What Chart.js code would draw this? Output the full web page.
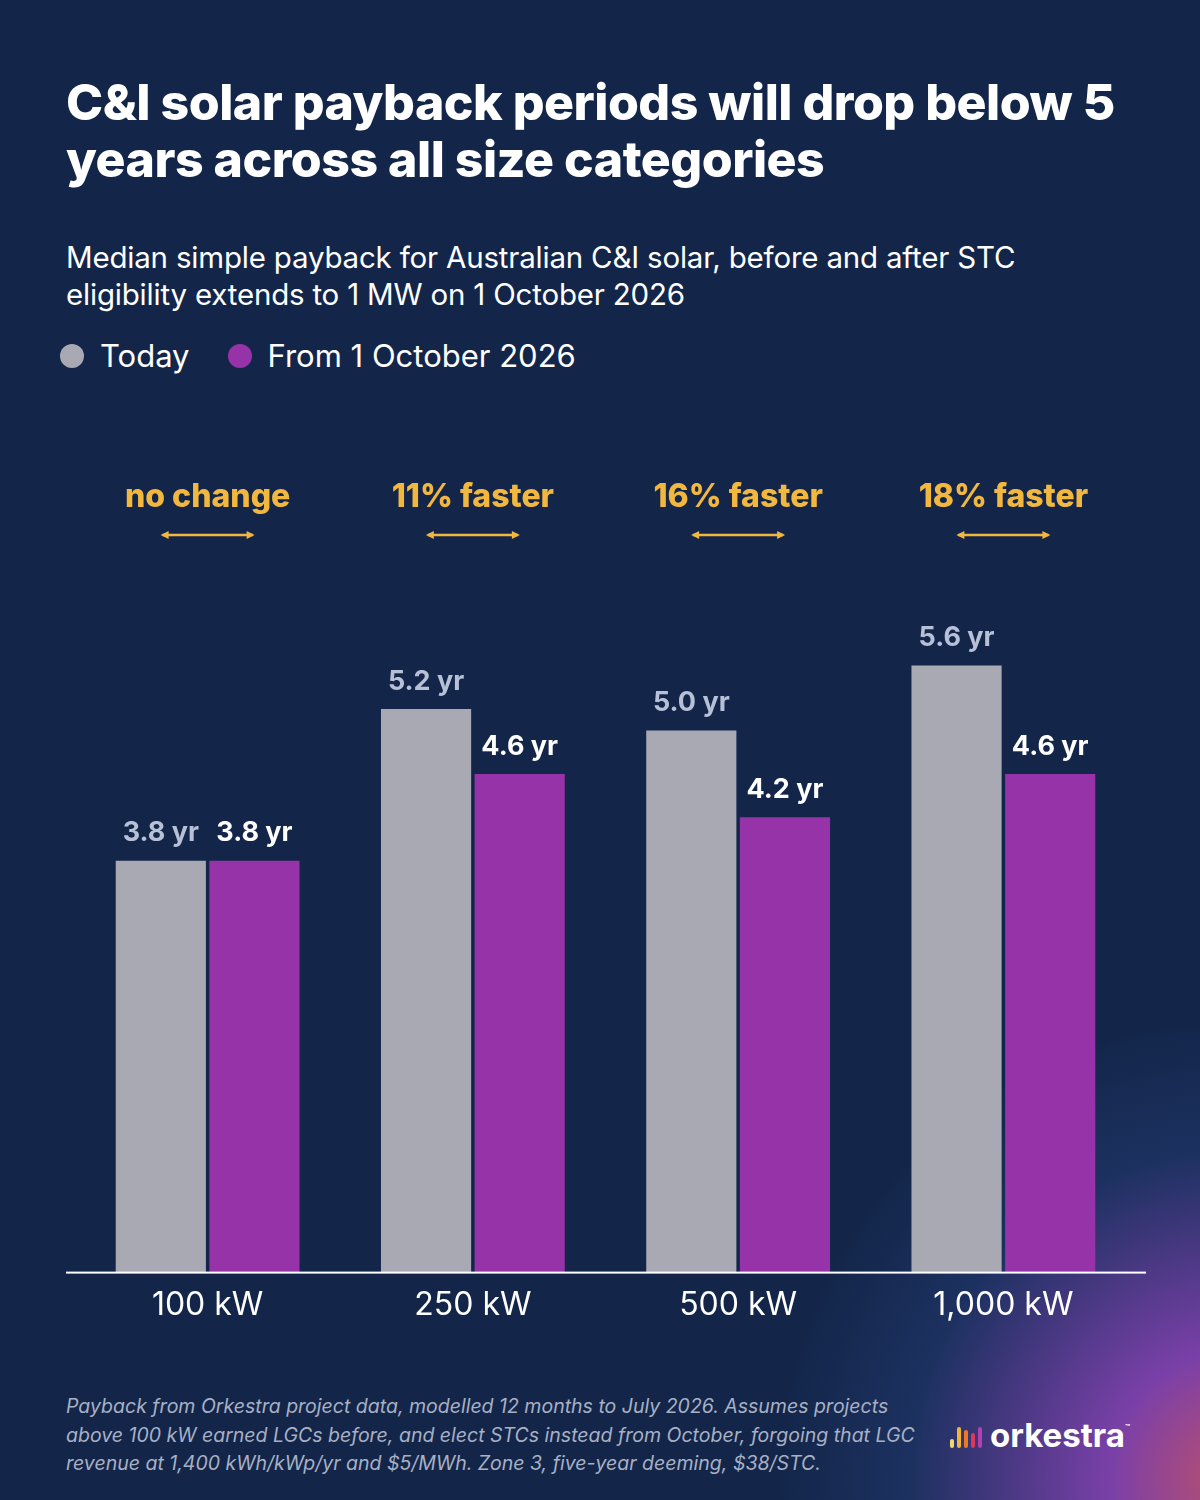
<!DOCTYPE html>
<html>
<head>
<meta charset="utf-8">
<script src="https://cdn.jsdelivr.net/npm/chart.js@4.4.1/dist/chart.umd.min.js"></script>
<style>
  body { margin: 0; width: 1200px; height: 1500px; overflow: hidden;
    background: radial-gradient(circle at 1240px 1480px, #c0506a 0px, #7a40a8 130px, #1c3160 330px, #13264a 460px), #13264a;
    font-family: "Inter", sans-serif; color: #fff; position: relative; }
  h1 { position: absolute; left: 66px; top: 74px; margin: 0; font-size: 50px; line-height: 57px; font-weight: 800; width: 1100px; letter-spacing: -0.5px; }
  .sub { position: absolute; left: 66px; top: 239px; font-size: 29.5px; line-height: 37px; font-weight: 400; width: 1100px; letter-spacing: -0.2px; }
  .legend { position: absolute; left: 60px; top: 337px; font-size: 31px; display: flex; align-items: center; }
  .dot { width: 24px; height: 24px; border-radius: 50%; display: inline-block; margin-right: 16px; }
  .foot { position: absolute; left: 66px; top: 1392px; font-size: 19.5px; line-height: 28.5px; font-style: italic; color: #a8b0c4; width: 850px; }
  .logo { position: absolute; left: 950px; top: 1422px; display: flex; align-items: flex-end; font-size: 33px; font-weight: 700; }
  .logo span.b { display: inline-block; width: 4px; border-radius: 2px; margin-right: 3px; }
  #wrap { position: absolute; left: 0; top: 400px; width: 1200px; height: 960px; }
</style>
</head>
<body>
<h1>C&amp;I solar payback periods will drop below 5 years across all size categories</h1>
<div class="sub">Median simple payback for Australian C&amp;I solar, before and after STC<br>eligibility extends to 1 MW on 1 October 2026</div>
<div class="legend">
  <span class="dot" style="background:#a9a9b4"></span><span style="margin-right:38px">Today</span>
  <span class="dot" style="background:#9733a8"></span><span>From 1 October 2026</span>
</div>
<div id="wrap"><canvas id="payback" width="1200" height="960"></canvas></div>
<div class="foot">Payback from Orkestra project data, modelled 12 months to July 2026. Assumes projects above 100 kW earned LGCs before, and elect STCs instead from October, forgoing that LGC revenue at 1,400 kWh/kWp/yr and $5/MWh. Zone 3, five-year deeming, $38/STC.</div>
<div class="logo">
  <span class="b" style="height:9px;background:#f6d56a"></span>
  <span class="b" style="height:21px;background:#f2b531"></span>
  <span class="b" style="height:18px;background:#ec7a25"></span>
  <span class="b" style="height:15px;background:#d93a5c"></span>
  <span class="b" style="height:21px;background:#b33fb5;margin-right:8px"></span>
  <span style="line-height:26px">orkestra</span><span style="font-size:8px;align-self:flex-start">™</span>
</div>
<script>
const sizes = ["100 kW", "250 kW", "500 kW", "1,000 kW"];
const today = [3.8, 5.2, 5.0, 5.6];
const fromOct = [3.8, 4.6, 4.2, 4.6];
const changes = ["no change", "11% faster", "16% faster", "18% faster"];

const overlay = {
  id: "overlay",
  afterDatasetsDraw(chart) {
    const ctx = chart.ctx;
    ctx.save();
    ctx.textAlign = "center";
    ctx.textBaseline = "bottom";
    chart.data.datasets.forEach((ds, di) => {
      chart.getDatasetMeta(di).data.forEach((bar, i) => {
        ctx.font = "bold 27px Inter";
        ctx.fillStyle = di === 0 ? "#b7c0d6" : "#ffffff";
        ctx.fillText(ds.data[i].toFixed(1) + " yr", bar.x, bar.y - 14);
      });
    });
    // axis line spans a bit wider than the bars
    const area = chart.chartArea;
    ctx.fillStyle = "#ffffff";
    ctx.fillRect(66, area.bottom - 1, 1080, 2);
    const x = chart.scales.x;
    changes.forEach((c, i) => {
      const cx = x.getPixelForValue(i);
      ctx.fillStyle = "#f2b73e";
      ctx.strokeStyle = "#f2b73e";
      ctx.font = "800 32px Inter";
      ctx.textBaseline = "middle";
      ctx.fillText(c, cx, 97);
      ctx.lineWidth = 2.5;
      ctx.beginPath();
      ctx.moveTo(cx - 45, 135); ctx.lineTo(cx + 45, 135); ctx.stroke();
      [-1, 1].forEach((s) => {
        ctx.beginPath();
        ctx.moveTo(cx + s * 47, 135);
        ctx.lineTo(cx + s * 39, 131);
        ctx.lineTo(cx + s * 39, 139);
        ctx.closePath(); ctx.fill();
      });
    });
    ctx.restore();
  }
};

new Chart(document.getElementById("payback").getContext("2d"), {
  type: "bar",
  data: {
    labels: sizes,
    datasets: [
      { label: "Today", data: today, backgroundColor: "#a9a9b4" },
      { label: "From 1 October 2026", data: fromOct, backgroundColor: "#9733a8" },
    ],
  },
  options: {
    responsive: false,
    animation: false,
    devicePixelRatio: 1,
    layout: { padding: { left: 75, right: 64, top: 0, bottom: 21 } },
    categoryPercentage: 0.706,
    barPercentage: 0.963,
    plugins: { legend: { display: false }, tooltip: { enabled: false } },
    scales: {
      x: {
        grid: { display: false, drawTicks: false },
        border: { display: false },
        ticks: { color: "#ffffff", font: { size: 32, family: "Inter" }, padding: 14, maxRotation: 0 },
      },
      y: { display: false, min: 0, max: 8.05 },
    },
  },
  plugins: [overlay],
});
</script>
</body>
</html>
